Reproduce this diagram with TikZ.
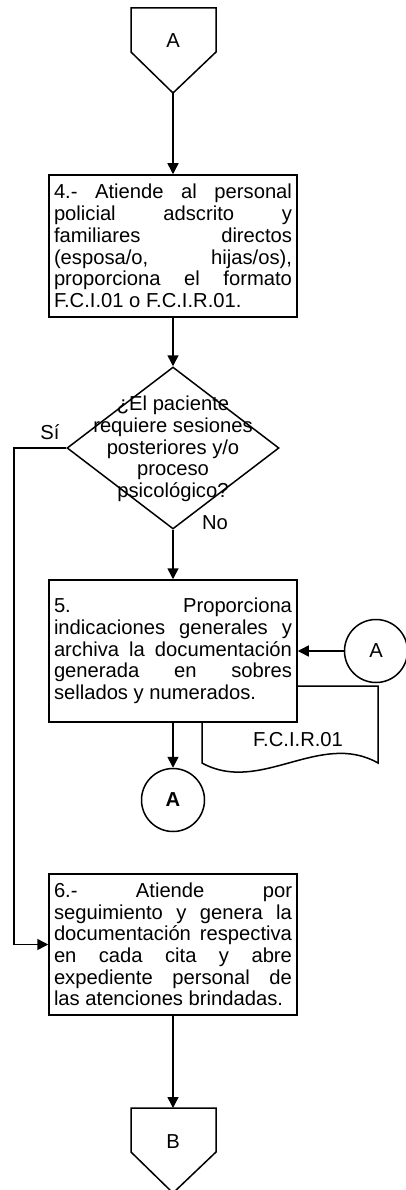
\documentclass[tikz,border=0pt]{standalone}
\usepackage{fontspec}
\setmainfont{Liberation Sans}
\usetikzlibrary{shapes.geometric,arrows.meta}
\begin{document}
\begin{tikzpicture}[x=1pt,y=-1pt,
  line width=1.5pt,
  font=\fontsize{20.2}{21.7}\selectfont,
  arr/.style={-{Triangle[length=11pt,width=11pt]}},
  procbox/.style={draw, fill=white, minimum width=248pt, minimum height=142pt,
    text width=238pt, inner xsep=5pt, inner ysep=0pt, align=justify,
    execute at begin node={\tolerance=10000\hyphenpenalty=10000\hbadness=10000}},
  decision/.style={diamond, draw, minimum width=212pt, minimum height=162pt, inner sep=0pt},
  conn/.style={circle, draw, fill=white, minimum size=63pt, inner sep=0pt},
  lbl/.style={inner sep=0pt}
]
\useasboundingbox (0,0) rectangle (406,1190);

% top off-page connector A
\draw (131,8) -- (216,8) -- (216,52) -- (173,93) -- (131,52) -- cycle;
\node[lbl] (pa) at (173,41) {A};
\coordinate (pat) at (173,93);

% box 4
\node[procbox] (b4) at (173,246) {4.- Atiende al personal\linebreak policial adscrito y\linebreak familiares directos\linebreak (esposa/o, hijas/os),\linebreak proporciona el formato\linebreak F.C.I.01 o F.C.I.R.01.};

% decision
\node[decision] (d) at (173,448) {};
\node[lbl, align=center] (dt) at (173,449) {¿El paciente\\requiere sesiones\\posteriores y/o\\proceso\\psicológico?};
\node[lbl] (si) at (50,432) {Sí};
\node[lbl] (no) at (215,523) {No};
\coordinate (sil) at (14,448);

% document F.C.I.R.01 (behind box 5)
\draw[fill=white] (202,686) -- (378,686) -- (378,763) .. controls (320,730) and (260,795) .. (202,763) -- cycle;
\node[lbl] (doc) at (298,740) {F.C.I.R.01};

% box 5
\node[procbox] (b5) at (173,651) {5. Proporciona\linebreak indicaciones generales y\linebreak archiva la documentación\linebreak generada en sobres\linebreak sellados y numerados.};

% connectors A
\node[conn] (ca) at (376,651) {A};
\node[conn, font=\fontsize{20.2}{21.7}\selectfont\bfseries] (cb) at (173,800) {A};

% box 6
\node[procbox, minimum height=141pt] (b6) at (173,944.5) {6.- Atiende por\linebreak seguimiento y genera la\linebreak documentación respectiva\linebreak en cada cita y abre\linebreak expediente personal de\linebreak las atenciones brindadas.};

% bottom off-page connector B
\draw (131,1108) -- (216,1108) -- (216,1152) -- (173,1193) -- (131,1152) -- cycle;
\node[lbl] (pb) at (173,1142) {B};
\coordinate (pbt) at (173,1108);

% connectors
\draw[arr] (pat) -- (b4.north);
\draw[arr] (b4.south) -- (d.north);
\draw[arr] (d.south) -- (b5.north);
\draw[arr] (d.west) -- (sil) |- (b6.west);
\draw[arr] (ca.west) -- (ca.west -| b5.east);
\draw[arr] (b5.south) -- (cb.north);
\draw[arr] (b6.south) -- (pbt);
\end{tikzpicture}
\end{document}
